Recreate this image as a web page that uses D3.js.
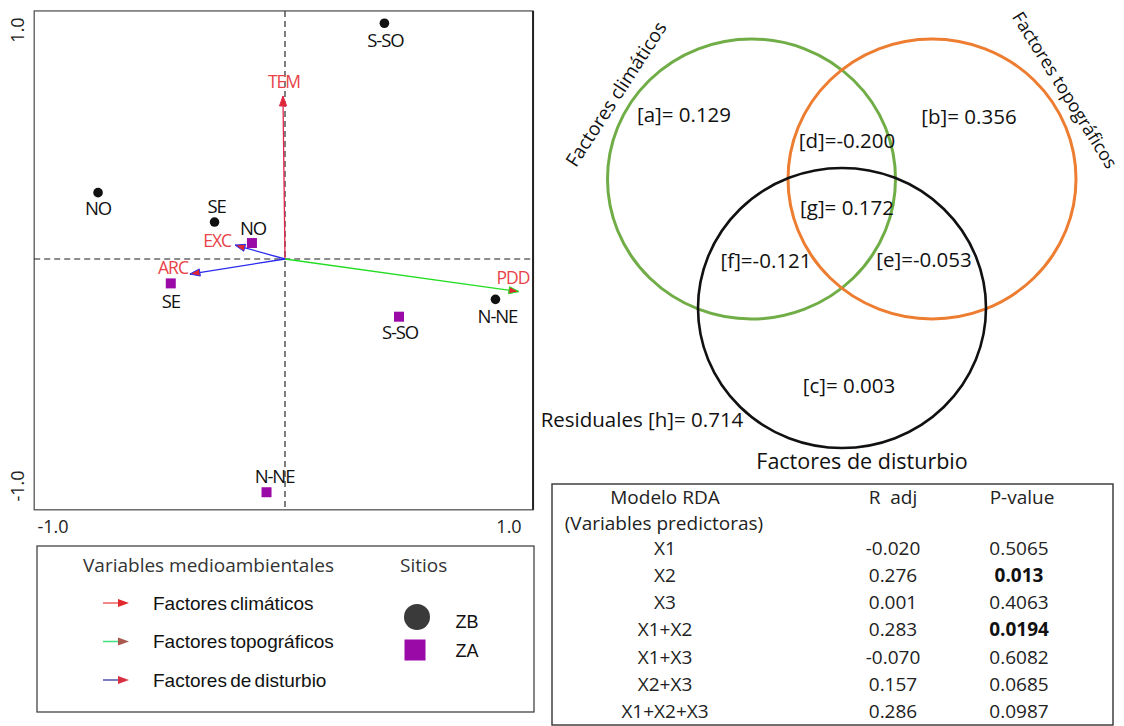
<!DOCTYPE html>
<html><head><meta charset="utf-8">
<script src="https://cdn.jsdelivr.net/npm/d3@7"></script>
<style>
html,body{margin:0;padding:0;background:#fff;}
svg{display:block;}
</style></head><body>
<svg id="fig" width="1124" height="726"></svg>
<script>
// ---- RDA biplot: site scores (axis 1, axis 2) ----
const siteNames = ["S-SO", "NO", "SE", "N-NE"];
const zbAxis1 = [0.436, -0.820, -0.309, 0.923];
const zbAxis2 = [1.034, 0.291, 0.162, -0.177];
const zaAxis1 = [0.500, -0.145, -0.501, -0.081];
const zaAxis2 = [-0.253, 0.070, -0.107, -1.023];

// ---- environmental vectors ----
const envVars = ["TEM", "PDD", "EXC", "ARC"];
const envAxis1 = [-0.009, 1.026, -0.219, -0.417];
const envAxis2 = [0.715, -0.143, 0.061, -0.066];
const envGroup = [0, 1, 2, 2];

const axisTicks = [-1.0, 1.0];

// ---- legend ----
const legendTitle = "Variables medioambientales";
const groupNames = ["Factores climáticos", "Factores topográficos", "Factores de disturbio"];
const sitesTitle = "Sitios";
const siteGroups = ["ZB", "ZA"];

// ---- variance partitioning ----
const vennSets = ["Factores climáticos", "Factores topográficos", "Factores de disturbio"];
const vennKeys = ["a", "b", "c", "d", "e", "f", "g"];
const vennValues = [0.129, 0.356, 0.003, -0.200, -0.053, -0.121, 0.172];
const residualKey = "h";
const residualValue = 0.714;

// ---- RDA model table ----
const tableHeader = ["Modelo RDA", "R\u00A0\u00A0adj", "P-value"];
const tableSubHeader = "(Variables predictoras)";
const models = ["X1", "X2", "X3", "X1+X2", "X1+X3", "X2+X3", "X1+X2+X3"];
const rAdj = [-0.020, 0.276, 0.001, 0.283, -0.070, 0.157, 0.286];
const pValues = ["0.5065", "0.013", "0.4063", "0.0194", "0.6082", "0.0685", "0.0987"];

// ================= drawing =================
const svg = d3.select("#fig");
const sans = "'Open Sans', 'Noto Sans', sans-serif";
const arial = "'Liberation Sans', Arial, sans-serif";
const groupColor = ["#e4274d", "#22dd22", "#2a2aee"];
const headFill = "#e02834";
const labelRed = "#e84348";
const zbColor = "#111111";
const zaColor = "#9a0aa6";

// Biplot
const x = d3.scaleLinear().domain([-1, 1]).range([57, 513]);
const y = d3.scaleLinear().domain([-1, 1]).range([487, 31]);
const bx0 = x(-1.1), bx1 = x(1.088), by0 = y(1.088), by1 = y(-1.1);

const plot = svg.append("g");
plot.append("rect")
  .attr("x", bx0).attr("y", by0).attr("width", bx1 - bx0).attr("height", by1 - by0)
  .attr("fill", "none").attr("stroke", "#555").attr("stroke-width", 1.3);
plot.append("line").attr("x1", bx1).attr("x2", bx1).attr("y1", by0).attr("y2", by1)
  .attr("stroke", "#222").attr("stroke-width", 2);

// zero lines
plot.append("line").attr("x1", bx0).attr("x2", bx1).attr("y1", y(0)).attr("y2", y(0))
  .attr("stroke", "#1a1a1a").attr("stroke-dasharray", "6,4").attr("stroke-width", 1.1);
plot.append("line").attr("x1", x(0)).attr("x2", x(0)).attr("y1", by0).attr("y2", by1)
  .attr("stroke", "#3a3a3a").attr("stroke-dasharray", "6,4").attr("stroke-width", 1.3);

// tick labels
plot.selectAll("text.xt").data(axisTicks).join("text")
  .attr("class", "xt")
  .attr("x", d => x(d) - 4).attr("y", by1 + 23)
  .attr("text-anchor", "middle").attr("font-family", sans).attr("font-size", 18).attr("fill", "#222")
  .text(d => d3.format(".1f")(d).replace("−", "-"));
plot.selectAll("text.yt").data(axisTicks).join("text")
  .attr("class", "yt")
  .attr("transform", d => `translate(24,${y(d) - 1}) rotate(-90)`)
  .attr("text-anchor", "middle").attr("font-family", sans).attr("font-size", 18).attr("fill", "#222")
  .text(d => d3.format(".1f")(d).replace("−", "-"));

// environmental arrows
const envData = envVars.map((n, i) => ({ name: n, a1: envAxis1[i], a2: envAxis2[i], g: envGroup[i] }));
function headPath(x0, y0, x1, y1, len, half) {
  const dx = x1 - x0, dy = y1 - y0, L = Math.hypot(dx, dy);
  const ux = dx / L, uy = dy / L;
  const bxp = x1 - ux * len, byp = y1 - uy * len;
  return `M${x1},${y1}L${bxp - uy * half},${byp + ux * half}L${bxp + uy * half},${byp - ux * half}Z`;
}
const arrows = plot.selectAll("g.env").data(envData).join("g").attr("class", "env");
arrows.append("line")
  .attr("x1", x(0)).attr("y1", y(0))
  .attr("x2", d => x(d.a1)).attr("y2", d => y(d.a2))
  .attr("stroke", d => groupColor[d.g]).attr("stroke-width", 1.3);
arrows.append("path")
  .attr("d", d => headPath(x(0), y(0), x(d.a1), y(d.a2), 10, 3.6))
  .attr("fill", headFill).attr("stroke", d => groupColor[d.g]).attr("stroke-width", 1);

const envLabelPlace = {
  TEM: { dx: 1, dy: -8, anchor: "middle" },
  PDD: { dx: -6, dy: -8, anchor: "middle" },
  EXC: { dx: -4, dy: 2, anchor: "end" },
  ARC: { dx: -2, dy: 0, anchor: "end" }
};
arrows.append("text")
  .attr("x", d => x(d.a1) + envLabelPlace[d.name].dx)
  .attr("y", d => y(d.a2) + envLabelPlace[d.name].dy)
  .attr("text-anchor", d => envLabelPlace[d.name].anchor)
  .attr("font-family", sans).attr("font-size", 17.5).attr("letter-spacing", -1)
  .attr("fill", labelRed)
  .text(d => d.name);

// sites
const zbData = siteNames.map((n, i) => ({ name: n, a1: zbAxis1[i], a2: zbAxis2[i] }));
const zaData = siteNames.map((n, i) => ({ name: n, a1: zaAxis1[i], a2: zaAxis2[i] }));
const zbLabelOffset = { "S-SO": [1, 17], "NO": [0, 16], "SE": [2, -16], "N-NE": [2, 17] };
const zaLabelOffset = { "S-SO": [1, 16], "NO": [1, -15], "SE": [0, 18], "N-NE": [8, -16] };

plot.selectAll("circle.zb").data(zbData).join("circle")
  .attr("class", "zb")
  .attr("cx", d => x(d.a1)).attr("cy", d => y(d.a2)).attr("r", 4.8)
  .attr("fill", zbColor);
plot.selectAll("rect.za").data(zaData).join("rect")
  .attr("class", "za")
  .attr("x", d => x(d.a1) - 5).attr("y", d => y(d.a2) - 5).attr("width", 10).attr("height", 10)
  .attr("fill", zaColor);

function siteLabels(cls, data, offs) {
  plot.selectAll("text." + cls).data(data).join("text")
    .attr("class", cls)
    .attr("x", d => x(d.a1) + offs[d.name][0])
    .attr("y", d => y(d.a2) + offs[d.name][1])
    .attr("dy", "0.36em")
    .attr("text-anchor", "middle")
    .attr("font-family", sans).attr("font-size", 18.5).attr("letter-spacing", -1.1)
    .attr("fill", "#111")
    .text(d => d.name);
}
siteLabels("zbl", zbData, zbLabelOffset);
siteLabels("zal", zaData, zaLabelOffset);

// ---- legend box ----
const leg = svg.append("g");
leg.append("rect").attr("x", 37).attr("y", 546).attr("width", 497).attr("height", 166)
  .attr("fill", "none").attr("stroke", "#444").attr("stroke-width", 1.3);
leg.append("text").attr("x", 83).attr("y", 572)
  .attr("font-family", sans).attr("font-size", 19).attr("fill", "#333").text(legendTitle);
leg.append("text").attr("x", 400).attr("y", 572)
  .attr("font-family", sans).attr("font-size", 19).attr("fill", "#333").text(sitesTitle);

const legHeadFill = ["#e0282e", "#a8584c", "#d83040"];
const legLineColor = ["#f06060", "#40e080", "#5050a8"];
const legRows = leg.selectAll("g.lr").data(groupNames).join("g").attr("class", "lr")
  .attr("transform", (d, i) => `translate(0,${603 + i * 38.5})`);
legRows.append("line").attr("x1", 103).attr("x2", 120).attr("y1", 0).attr("y2", 0)
  .attr("stroke", (d, i) => legLineColor[i]).attr("stroke-width", 1.5);
legRows.append("path").attr("d", "M129,0L118,-4L118,4Z")
  .attr("fill", (d, i) => legHeadFill[i]);
legRows.append("text").attr("x", 153).attr("y", 6.5)
  .attr("font-family", arial).attr("font-size", 19).attr("word-spacing", -2)
  .attr("fill", "#111").text(d => d);

leg.append("circle").attr("cx", 417).attr("cy", 617).attr("r", 13).attr("fill", "#3a3a3a");
leg.append("rect").attr("x", 404.5).attr("y", 639.5).attr("width", 21).attr("height", 21).attr("fill", zaColor);
leg.selectAll("text.sg").data(siteGroups).join("text").attr("class", "sg")
  .attr("x", 467).attr("y", (d, i) => 628 + i * 28.5)
  .attr("text-anchor", "middle")
  .attr("font-family", arial).attr("font-size", 18).attr("fill", "#111").text(d => d);

// ---- Venn diagram of variance partitioning ----
const venn = svg.append("g");
const rx = 144, ry = 140;
const setCenters = [[751.5, 179], [932, 179], [842, 308]];
const setColors = ["#70ad47", "#ed7d31", "#111111"];
const setWidths = [3, 3, 2.6];
venn.selectAll("ellipse").data(vennSets).join("ellipse")
  .attr("cx", (d, i) => setCenters[i][0]).attr("cy", (d, i) => setCenters[i][1])
  .attr("rx", rx).attr("ry", ry)
  .attr("fill", "none").attr("stroke", (d, i) => setColors[i]).attr("stroke-width", (d, i) => setWidths[i]);

const fmt3 = d3.format(".3f");
const regionText = (k, v) => `[${k}]=${v < 0 ? "" : " "}${fmt3(v).replace("−", "-")}`;
// region label anchors: a, b, c, d, e, f, g
const regionPos = [[684, 115], [969, 117], [849, 386], [847, 141], [924, 260], [766, 261], [847, 208]];
venn.selectAll("text.reg").data(vennKeys).join("text").attr("class", "reg")
  .attr("x", (d, i) => regionPos[i][0]).attr("y", (d, i) => regionPos[i][1])
  .attr("dy", "0.36em").attr("text-anchor", "middle")
  .attr("font-family", sans).attr("font-size", 20.5).attr("fill", "#111")
  .text((d, i) => regionText(d, vennValues[i]));

venn.append("text").attr("x", 642).attr("y", 420).attr("dy", "0.36em").attr("text-anchor", "middle")
  .attr("font-family", sans).attr("font-size", 20.5).attr("fill", "#111")
  .text(`Residuales ${regionText(residualKey, residualValue)}`);

venn.append("text").attr("transform", "translate(616,94) rotate(-57)")
  .attr("dy", "0.36em").attr("text-anchor", "middle")
  .attr("font-family", sans).attr("font-size", 19).attr("fill", "#111").text(vennSets[0]);
venn.append("text").attr("transform", "translate(1065,90) rotate(58)")
  .attr("dy", "0.36em").attr("text-anchor", "middle")
  .attr("font-family", sans).attr("font-size", 18).attr("fill", "#111").text(vennSets[1]);
venn.append("text").attr("x", 862).attr("y", 461).attr("dy", "0.36em").attr("text-anchor", "middle")
  .attr("font-family", sans).attr("font-size", 21.5).attr("fill", "#111").text(vennSets[2]);

// ---- table ----
const tbl = svg.append("g");
tbl.append("rect").attr("x", 552).attr("y", 484).attr("width", 561).attr("height", 241)
  .attr("fill", "none").attr("stroke", "#333").attr("stroke-width", 1.4);
const colX = [665, 893, 1019];
tbl.selectAll("text.hd").data(tableHeader).join("text").attr("class", "hd")
  .attr("x", (d, i) => colX[i] + (i === 2 ? 3 : 0)).attr("y", 497).attr("dy", "0.36em")
  .attr("text-anchor", "middle").attr("font-family", sans).attr("font-size", 19).attr("fill", "#222")
  .text(d => d);
tbl.append("text").attr("x", 664).attr("y", 523).attr("dy", "0.36em").attr("text-anchor", "middle")
  .attr("font-family", sans).attr("font-size", 19).attr("fill", "#222").text(tableSubHeader);

const rowY = d3.scalePoint().domain(models).range([548, 711]);
const rows = tbl.selectAll("g.row").data(models).join("g").attr("class", "row")
  .attr("transform", d => `translate(0,${rowY(d)})`);
rows.append("text").attr("x", colX[0]).attr("dy", "0.36em").attr("text-anchor", "middle")
  .attr("font-family", sans).attr("font-size", 19).attr("fill", "#222").text(d => d);
rows.append("text").attr("x", colX[1]).attr("dy", "0.36em").attr("text-anchor", "middle")
  .attr("font-family", sans).attr("font-size", 19).attr("fill", "#222")
  .text((d, i) => fmt3(rAdj[i]).replace("−", "-"));
rows.append("text").attr("x", colX[2]).attr("dy", "0.36em").attr("text-anchor", "middle")
  .attr("font-family", sans).attr("font-size", 19)
  .attr("font-weight", (d, i) => +pValues[i] < 0.05 ? "bold" : "normal")
  .attr("fill", (d, i) => +pValues[i] < 0.05 ? "#111" : "#222")
  .text((d, i) => pValues[i]);
</script>
</body></html>
